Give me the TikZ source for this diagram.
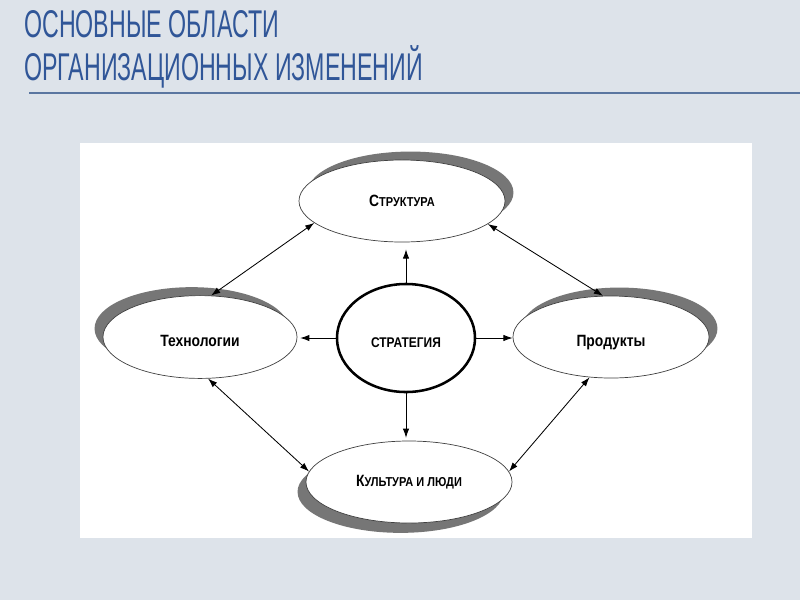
\documentclass[tikz,border=0pt]{standalone}
\usepackage{fontspec}
\setmainfont{Liberation Sans}
\newfontfamily\titlefont[FakeStretch=0.6]{Liberation Sans}
\newfontfamily\labelfont[FakeStretch=0.85]{Liberation Sans}
\usetikzlibrary{arrows.meta, positioning, shapes.geometric, shadows}
\definecolor{titleblue}{RGB}{48,86,152}
\definecolor{rulecol}{RGB}{90,118,160}
\definecolor{slidebg}{RGB}{221,227,234}
\definecolor{shadowgrey}{RGB}{118,118,118}

\newcommand{\smallcapsfake}[2]{#1{\fontsize{9.2}{10}\selectfont #2}}

\begin{document}
\begin{tikzpicture}[x=0.025cm, y=-0.025cm,
  title/.style={anchor=base west, inner sep=0pt, text=titleblue,
                font=\titlefont\fontsize{27.5}{30}\selectfont},
  area/.style={ellipse, draw=black!75, line width=0.5pt, fill=white,
               minimum width=5.15cm, minimum height=2.05cm, inner sep=0pt,
               font=\labelfont\bfseries\fontsize{11.6}{12}\selectfont},
  core/.style={ellipse, draw, line width=1.8pt, fill=white,
               minimum width=3.45cm, minimum height=2.7cm, inner sep=0pt,
               text height=13pt, text depth=0pt,
               font=\labelfont\bfseries\fontsize{10}{12}\selectfont},
  lowtext/.style={text height=14pt, text depth=0pt},
  shade ur/.style={general shadow={fill=shadowgrey, shadow xshift=6pt, shadow yshift=6pt}},
  shade ul/.style={general shadow={fill=shadowgrey, shadow xshift=-6pt, shadow yshift=6pt}},
  shade dl/.style={general shadow={fill=shadowgrey, shadow xshift=-6pt, shadow yshift=-7pt}},
  arrow/.style={-{Latex[length=6.5pt,width=4.5pt]}, line width=0.6pt},
  dblarrow/.style={{Latex[length=6.5pt,width=4.5pt]}-{Latex[length=6.5pt,width=4.5pt]}, line width=0.6pt}]

  \fill[slidebg] (0,0) rectangle (800,600);
  \useasboundingbox (0,0) rectangle (800,600);

  \node[title] (t1) at (24,37) {ОСНОВНЫЕ ОБЛАСТИ};
  \node[title] (t2) at (24,80) {ОРГАНИЗАЦИОННЫХ ИЗМЕНЕНИЙ};
  \draw[rulecol, line width=1.2pt] (29,93) -- (800,93);

  \fill[white] (80,143) rectangle (752,538);

  \node[area, shade ur] (struct) at (402,201) {\smallcapsfake{С}{ТРУКТУРА}};
  \node[area, shade ul, lowtext, minimum width=4.85cm, minimum height=2.07cm] (tech) at (200,337) {Технологии};
  \node[core] (strat) at (406,338) {СТРАТЕГИЯ};
  \node[area, shade ur, lowtext, minimum width=4.9cm] (prod) at (611,337) {Продукты};
  \node[area, shade dl] (cult) at (409,482) {\smallcapsfake{К}{УЛЬТУРА И ЛЮДИ}};

  \draw[arrow, shorten >=5pt] (strat) -- (strat |- struct.south);
  \draw[arrow, shorten >=2pt] (strat) -- (strat -| tech.east);
  \draw[arrow] (strat) -- (strat -| prod.west);
  \draw[arrow, shorten >=2pt] (strat) -- (strat |- cult.north);

  \draw[dblarrow] (struct.194) -- (tech.75);
  \draw[dblarrow] (struct.345) -- (prod.101);
  \draw[dblarrow] (tech.281) -- (cult.174);
  \draw[dblarrow] (prod.242) -- (cult.6);
\end{tikzpicture}
\end{document}
